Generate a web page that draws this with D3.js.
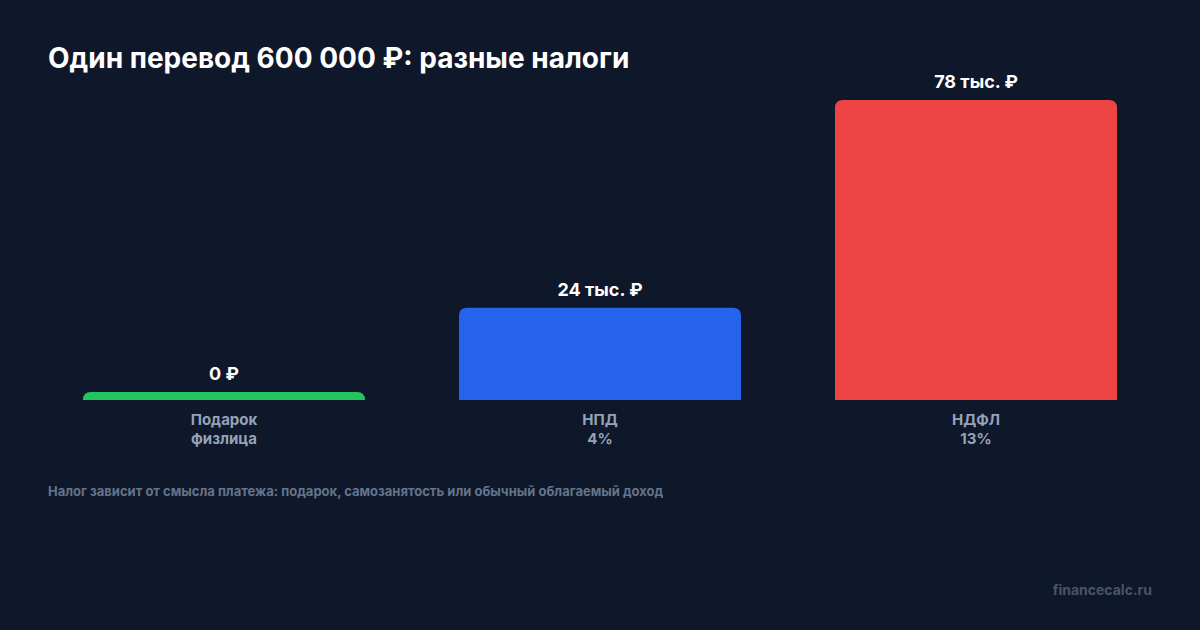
<!DOCTYPE html>
<html lang="ru">
<head>
<meta charset="utf-8"/>
<title>Один перевод 600 000 ₽: разные налоги</title>
<script src="https://d3js.org/d3.v7.min.js"></script>
<style>
  body { margin: 0; background: #0f172a; }
  svg { display: block; font-family: Inter, "Noto Sans", sans-serif; }
</style>
</head>
<body>
<script>
// data
var categories = ["Подарок физлица", "НПД", "НДФЛ"];
var line1 = ["Подарок", "НПД", "НДФЛ"];
var line2 = ["физлица", "4%", "13%"];
var taxes = [0, 24, 78];            // тыс. ₽
var valueLabels = ["0 ₽", "24 тыс. ₽", "78 тыс. ₽"];
var colors = ["#22c55e", "#2563eb", "#ef4444"];

var w = 1200, h = 630;
var baseY = 400, topY = 100;
var minH = 8, r = 8;

var svg = d3.select("body").append("svg")
    .attr("width", w)
    .attr("height", h);

svg.append("rect").attr("width", w).attr("height", h).attr("fill", "#0f172a");

// title
svg.append("text")
    .attr("x", 48).attr("y", 68)
    .attr("fill", "#ffffff")
    .attr("font-size", 28)
    .attr("font-weight", 700)
    .text("Один перевод 600 000 ₽: разные налоги");

var xScale = d3.scaleBand()
    .domain(categories)
    .range([48, 1152])
    .paddingInner(0.25)
    .paddingOuter(0.093);

var yScale = d3.scaleLinear()
    .domain([0, d3.max(taxes)])
    .range([baseY, topY]);

// bar with rounded top corners
function barPath(x, y, bw, bh) {
    var rr = Math.min(r, bh, bw / 2);
    return "M" + x + "," + (y + bh) +
        "V" + (y + rr) +
        "Q" + x + "," + y + " " + (x + rr) + "," + y +
        "H" + (x + bw - rr) +
        "Q" + (x + bw) + "," + y + " " + (x + bw) + "," + (y + rr) +
        "V" + (y + bh) + "Z";
}

function barTop(d) {
    return Math.min(yScale(d), baseY - minH);
}

var bars = svg.selectAll(".bar")
    .data(taxes)
    .enter()
    .append("path")
    .attr("class", "bar")
    .attr("fill", function (d, i) { return colors[i]; })
    .attr("d", function (d, i) {
        var t = barTop(d);
        return barPath(xScale(categories[i]), t, xScale.bandwidth(), baseY - t);
    });

// value labels
svg.selectAll(".val")
    .data(taxes)
    .enter()
    .append("text")
    .attr("class", "val")
    .attr("x", function (d, i) { return xScale(categories[i]) + xScale.bandwidth() / 2; })
    .attr("y", function (d) { return barTop(d) - 12; })
    .attr("text-anchor", "middle")
    .attr("fill", "#ffffff")
    .attr("font-size", 18)
    .attr("font-weight", 700)
    .text(function (d, i) { return valueLabels[i]; });

// category labels
var cats = svg.selectAll(".cat")
    .data(categories)
    .enter()
    .append("text")
    .attr("class", "cat")
    .attr("text-anchor", "middle")
    .attr("fill", "#94a3b8")
    .attr("font-size", 15)
    .attr("font-weight", 700);

cats.append("tspan")
    .attr("x", function (d) { return xScale(d) + xScale.bandwidth() / 2; })
    .attr("y", 425)
    .text(function (d, i) { return line1[i]; });

cats.append("tspan")
    .attr("x", function (d) { return xScale(d) + xScale.bandwidth() / 2; })
    .attr("y", 444)
    .text(function (d, i) { return line2[i]; });

// footnote
svg.append("text")
    .attr("x", 48).attr("y", 496)
    .attr("fill", "#64748b")
    .attr("font-size", 13)
    .attr("font-weight", 700)
    .text("Налог зависит от смысла платежа: подарок, самозанятость или обычный облагаемый доход");

// watermark
svg.append("text")
    .attr("x", 1152).attr("y", 595)
    .attr("text-anchor", "end")
    .attr("fill", "#475569")
    .attr("font-size", 14)
    .attr("font-weight", 700)
    .text("financecalc.ru");
</script>
</body>
</html>
